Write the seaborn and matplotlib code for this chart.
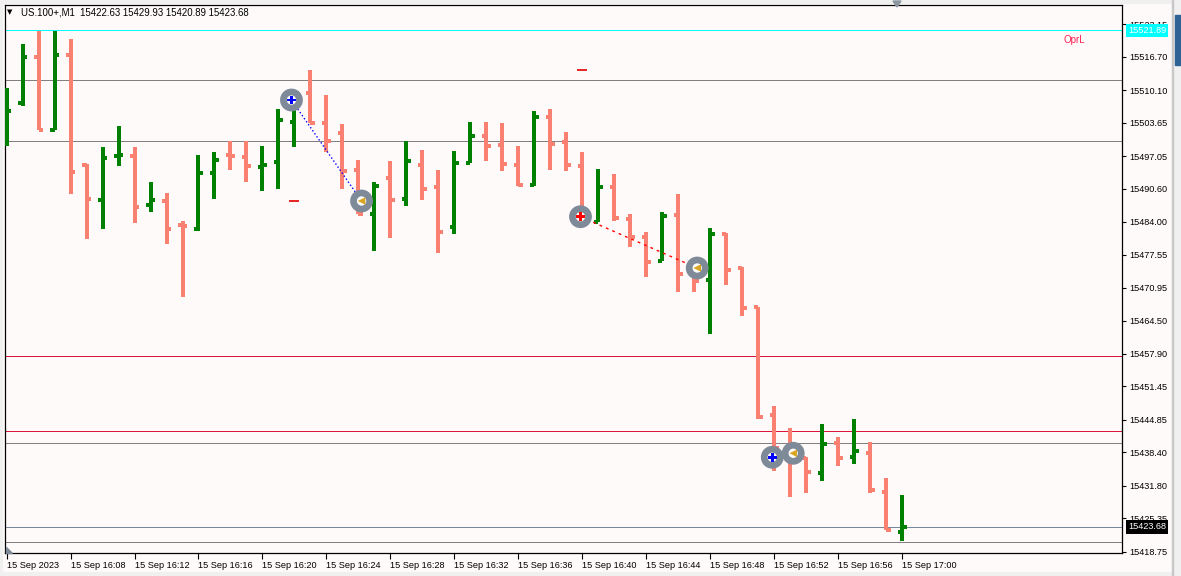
import numpy as np
import pandas as pd
import matplotlib
matplotlib.use("Agg")
import matplotlib.pyplot as plt
import matplotlib.transforms as mtransforms
from matplotlib.patches import Rectangle, Polygon
import seaborn as sns

# ---------------- data ----------------
symbol_header = "US.100+,M1  15422.63 15429.93 15420.89 15423.68"
times = pd.date_range("2023-09-15 16:04", "2023-09-15 17:00", freq="1min")

opens = [15502.20, 15507.60, 15516.70, 15502.20, 15516.98, 15495.21, 15488.35, 15497.11, 15497.11, 15487.42,
         15488.21, 15483.40, 15482.55, 15493.75, 15497.25, 15496.91, 15494.94, 15495.92, 15503.84, 15509.58,
         15503.52, 15501.66, 15494.34, 15485.64, 15492.76, 15488.60, 15495.33, 15490.92, 15483.06, 15495.73,
         15501.07, 15499.23, 15495.33, 15491.32, 15504.83, 15499.82, 15495.13, 15484.05, 15490.98, 15484.53,
         15480.97, 15476.35, 15485.44, 15473.65, 15472.58, 15481.62, 15474.95, 15467.10, 15445.87, 15438.68,
         15437.35, 15434.39, 15440.21, 15437.56, 15438.35, 15430.63, 15422.63]
highs = [15510.57, 15519.21, 15521.78, 15521.78, 15520.20, 15495.41, 15498.83, 15502.99, 15498.83, 15491.91,
         15489.73, 15484.19, 15497.25, 15497.84, 15500.02, 15500.02, 15499.03, 15506.35, 15509.77, 15514.07,
         15509.12, 15503.38, 15496.26, 15491.85, 15496.06, 15499.96, 15498.24, 15494.28, 15498.04, 15503.78,
         15503.78, 15503.58, 15499.03, 15505.96, 15506.35, 15501.86, 15497.84, 15494.42, 15493.49, 15485.58,
         15481.96, 15485.91, 15489.47, 15475.68, 15482.75, 15481.76, 15475.03, 15467.23, 15447.59, 15443.18,
         15437.44, 15444.03, 15441.39, 15445.02, 15440.46, 15433.28, 15429.93]
lows = [15499.09, 15507.00, 15502.20, 15502.20, 15489.59, 15480.63, 15482.61, 15495.07, 15483.86, 15485.97,
        15479.64, 15469.21, 15482.27, 15488.54, 15494.28, 15491.91, 15490.13, 15490.52, 15498.89, 15503.52,
        15497.90, 15490.52, 15485.58, 15478.26, 15480.89, 15487.22, 15488.35, 15477.92, 15481.68, 15495.67,
        15496.12, 15494.14, 15491.18, 15491.18, 15494.34, 15494.14, 15484.39, 15483.99, 15484.13, 15478.99,
        15473.17, 15476.28, 15470.20, 15470.08, 15461.77, 15471.59, 15465.45, 15444.96, 15434.67, 15429.64,
        15430.43, 15432.81, 15435.78, 15436.17, 15430.43, 15422.99, 15420.89]
closes = [15506.02, 15516.70, 15502.20, 15517.10, 15493.89, 15488.54, 15496.72, 15497.31, 15486.96, 15488.35,
          15482.61, 15483.30, 15493.75, 15496.32, 15497.11, 15495.13, 15495.33, 15504.23, 15509.52, 15503.64,
          15500.08, 15494.14, 15485.58, 15491.12, 15488.41, 15496.12, 15490.58, 15482.01, 15495.73, 15501.01,
          15499.03, 15495.53, 15491.26, 15504.83, 15499.43, 15495.27, 15484.98, 15490.98, 15484.84, 15481.09,
          15476.14, 15485.24, 15473.65, 15472.38, 15481.62, 15474.50, 15467.04, 15445.47, 15439.22, 15437.89,
          15434.59, 15440.13, 15437.36, 15438.74, 15431.03, 15422.99, 15423.68]

# horizontal level lines
level_prices = [15521.89, 15512.03, 15500.02, 15457.42, 15442.58, 15440.27, 15423.68, 15420.62]
level_colors = ["#00FFFF", "#808080", "#808080", "#DC143C", "#DC143C", "#808080", "#778899", "#808080"]

# trades: entry bar position / price, exit bar position / price
trade_entry_x = [17.81, 35.875, 47.86]
trade_entry_y = [15508.13, 15485.04, 15437.44]
trade_exit_x = [22.19, 43.17, 49.17]
trade_exit_y = [15488.15, 15474.89, 15438.23]
trade_colors = ["#0000FF", "#FF0000", "#0000FF"]
trade_styles = [":", (0, (2, 3)), (0, (3, 2))]

# small order marks
mark_x = [36, 18]
mark_y = [15514.07, 15488.09]

yticks = [15523.15, 15516.70, 15510.10, 15503.65, 15497.05, 15490.60, 15484.00, 15477.55, 15470.95,
          15464.50, 15457.90, 15451.45, 15444.85, 15438.40, 15431.80, 15425.35, 15418.75]
xtick_idx = [0, 4, 8, 12, 16, 20, 24, 28, 32, 36, 40, 44, 48, 52, 56]
xtick_labels = ["15 Sep 2023", "15 Sep 16:08", "15 Sep 16:12", "15 Sep 16:16", "15 Sep 16:20",
                "15 Sep 16:24", "15 Sep 16:28", "15 Sep 16:32", "15 Sep 16:36", "15 Sep 16:40",
                "15 Sep 16:44", "15 Sep 16:48", "15 Sep 16:52", "15 Sep 16:56", "15 Sep 17:00"]
bid_price = 15423.68
top_price = 15521.89

# ---------------- style ----------------
sns.set_theme(style="white")
plt.rcParams["font.family"] = ["Liberation Sans", "DejaVu Sans"]
BG = "#FFFAFA"
W, H = 1181, 576

def fpx(x, y):
    return (x / W, 1 - y / H)

fig = plt.figure(figsize=(W / 100, H / 100), dpi=100, facecolor=BG)
ax = fig.add_axes([5 / W, 1 - 553 / H, (1122 - 5) / W, (553 - 5) / H])
ax.set_facecolor(BG)

df = pd.DataFrame({"t": times, "open": opens, "high": highs, "low": lows, "close": closes})
df["x"] = np.arange(len(df))
df["color"] = np.where(df["close"] > df["open"], "#008000", "#FA8072")

# level lines
for p, c in zip(level_prices, level_colors):
    ax.axhline(p, color=c, lw=0.72, zorder=1, antialiased=False)

# OHLC bars
tick = 0.31
ax.vlines(df["x"], df["low"], df["high"], colors=df["color"], lw=1.5, zorder=3, antialiased=False)
ax.hlines(df["open"], df["x"] - tick, df["x"], colors=df["color"], lw=1.5, zorder=3, antialiased=False)
ax.hlines(df["close"], df["x"], df["x"] + tick, colors=df["color"], lw=1.5, zorder=3, antialiased=False)

# small order marks
sns.scatterplot(x=mark_x, y=mark_y, marker="_", s=45, color="#E00000", linewidth=1.2, ax=ax, zorder=4)

# trade connecting lines
for i in range(len(trade_entry_x)):
    tdf = pd.DataFrame({"x": [trade_entry_x[i], trade_exit_x[i]], "y": [trade_entry_y[i], trade_exit_y[i]]})
    sns.lineplot(data=tdf, x="x", y="y", color=trade_colors[i], lw=1.0, linestyle=trade_styles[i],
                 sort=False, estimator=None, ax=ax, zorder=5)

# trade circles
circ_x = trade_entry_x + trade_exit_x
circ_y = trade_entry_y + trade_exit_y
sns.scatterplot(x=circ_x, y=circ_y, s=270, color="#7F8A99", edgecolor="none", ax=ax, zorder=6)
sns.scatterplot(x=circ_x, y=circ_y, s=45, color="#FFFFFF", edgecolor="none", ax=ax, zorder=6)
sns.scatterplot(x=trade_entry_x, y=trade_entry_y, marker="P", s=40, hue=list(range(3)),
                palette=trade_colors, edgecolor="none", legend=False, ax=ax, zorder=7)
sns.scatterplot(x=trade_exit_x, y=trade_exit_y, marker="<", s=30, color="#DAA520",
                edgecolor="none", ax=ax, zorder=7)

# axes limits / ticks
ax.set_xlim(-0.094, 69.72)
ax.set_ylim(15418.50, 15526.93)
ax.set_xlabel("")
ax.set_ylabel("")
ax.yaxis.tick_right()
ax.set_yticks(yticks)
ax.set_yticklabels([f"{v:.2f}" for v in yticks])
ax.set_xticks(xtick_idx)
ax.set_xticklabels(xtick_labels, ha="left")
ax.tick_params(axis="y", which="both", direction="out", length=3, width=0.8, color="black",
               labelsize=6.6, pad=2.5, labelcolor="black", right=True, left=False)
ax.tick_params(axis="x", which="both", direction="out", length=4, width=0.8, color="black",
               labelsize=6.6, pad=1.5, labelcolor="black", bottom=True)
for lbl in ax.get_xticklabels():
    lbl.set_horizontalalignment("left")
for s in ax.spines.values():
    s.set_color("black")
    s.set_linewidth(0.9)
ax.grid(False)

# price boxes on the right axis
blend = mtransforms.blended_transform_factory(ax.transAxes, ax.transData)
ax.text((1128 - 5) / 1117, top_price, f"{top_price:.2f}", transform=blend, color="white", fontsize=6.6,
        va="center", ha="left", clip_on=False, zorder=10,
        bbox=dict(boxstyle="square,pad=0.25", fc="#00FFFF", ec="none"))
ax.text((1128 - 5) / 1117, bid_price, f"{bid_price:.2f}", transform=blend, color="white", fontsize=6.6,
        va="center", ha="left", clip_on=False, zorder=10,
        bbox=dict(boxstyle="square,pad=0.25", fc="black", ec="none"))

# header and labels
fig.text(*fpx(21, 12.5), symbol_header, fontsize=6.9, color="black", va="center", ha="left")
fig.text(*fpx(7, 12.5), "\u25BC", fontsize=5, color="black", va="center", ha="left", family="DejaVu Sans")
fig.text(*fpx(1063, 40), "OprL", fontsize=7, color="#FF1E50", va="center", ha="left")

# window chrome
fig.patches.append(Rectangle(fpx(0, 576), 2 / W, 1, transform=fig.transFigure, color="#F0F0F0", zorder=0))
fig.patches.append(Rectangle(fpx(0, 3), 1, 3 / H, transform=fig.transFigure, color="#F0F0F0", zorder=0))
fig.patches.append(Rectangle(fpx(0, 576), 1, 4 / H, transform=fig.transFigure, color="#F0F0F0", zorder=0))
fig.patches.append(Rectangle(fpx(1172, 576), 9 / W, 1, transform=fig.transFigure, color="#F0F0F0", zorder=0))
fig.patches.append(Rectangle(fpx(1172, 576), 1 / W, 1, transform=fig.transFigure, color="#C8C8C8", zorder=1))
fig.patches.append(Rectangle(fpx(1175, 65), 6 / W, 50 / H, transform=fig.transFigure, color="#2E6396", zorder=1))
fig.patches.append(Polygon([fpx(893, 1), fpx(901, 1), fpx(897, 7)], closed=True,
                           transform=fig.transFigure, color="#8C96A0", zorder=2))
fig.patches.append(Polygon([fpx(6, 547), fpx(6, 553), fpx(12, 553)], closed=True,
                           transform=fig.transFigure, color="#7F8A99", zorder=2))

fig.savefig("out.png", dpi=100, facecolor=BG)
